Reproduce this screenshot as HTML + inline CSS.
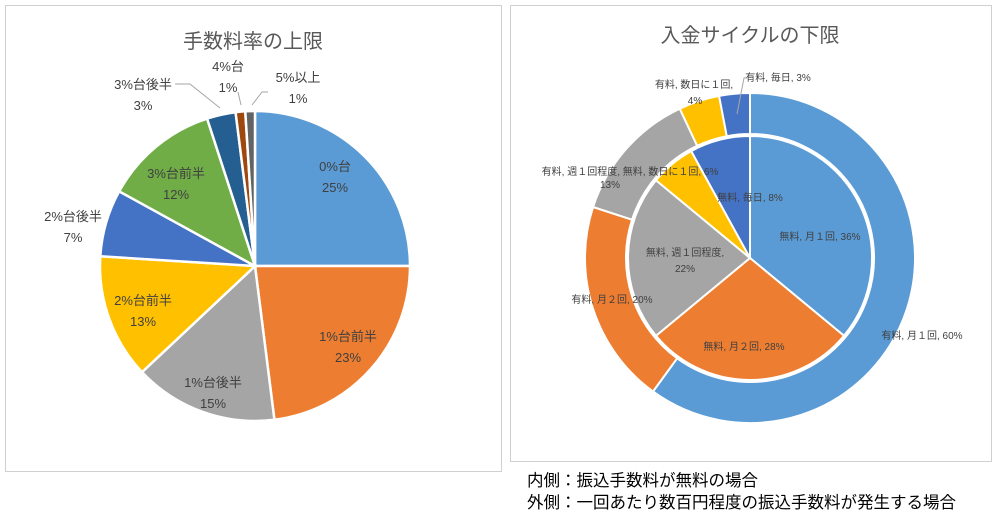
<!DOCTYPE html>
<html><head><meta charset="utf-8"><style>
body{margin:0;width:1000px;height:519px;background:#fff;overflow:hidden;font-family:"Liberation Sans","Noto Sans CJK JP",sans-serif;}
.panel{position:absolute;border:1px solid #d0d0d0;background:#fff;}
.note{position:absolute;left:527px;font-size:16.5px;color:#000;white-space:nowrap;}
svg text{font-family:"Liberation Sans","Noto Sans CJK JP",sans-serif;}
</style></head><body>
<div class="panel" style="left:5px;top:5px;width:495px;height:465px"></div>
<div class="panel" style="left:510px;top:5px;width:480px;height:455px"></div>
<svg id="s" width="1000" height="519" style="position:absolute;left:0;top:0">
<text x="253" y="48" font-size="20" fill="#595959" text-anchor="middle">手数料率の上限</text>
<text x="750" y="42" font-size="20" fill="#595959" text-anchor="middle">入金サイクルの下限</text>
<g id="lp"></g><g id="ro"></g><g id="ri"></g><g id="lbl"></g>
</svg>
<div class="note" style="top:467px">内側：振込手数料が無料の場合</div>
<div class="note" style="top:489px">外側：一回あたり数百円程度の振込手数料が発生する場合</div>
<script>
const leftCategories=["0%台","1%台前半","1%台後半","2%台前半","2%台後半","3%台前半","3%台後半","4%台","5%以上"];
const leftValues=[25,23,15,13,7,12,3,1,1];
const outerCategories=["有料, 月１回","有料, 月２回","有料, 週１回程度","有料, 数日に１回","有料, 毎日"];
const outerValues=[60,20,13,4,3];
const innerCategories=["無料, 月１回","無料, 月２回","無料, 週１回程度","無料, 数日に１回","無料, 毎日"];
const innerValues=[36,28,22,6,8];
const leftColors=["#5b9bd5","#ed7d31","#a5a5a5","#ffc000","#4472c4","#70ad47","#255e91","#9e480e","#636363"];
const ringColors=["#5b9bd5","#ed7d31","#a5a5a5","#ffc000","#4472c4"];
const NS="http://www.w3.org/2000/svg";
function pt(cx,cy,r,a){return [cx+r*Math.sin(a),cy-r*Math.cos(a)];}
function arcPath(cx,cy,r0,r1,a0,a1){
 const lg=(a1-a0)>Math.PI?1:0;
 const p1=pt(cx,cy,r1,a0),p2=pt(cx,cy,r1,a1);
 if(r0<=0)return `M${cx},${cy}L${p1}A${r1},${r1} 0 ${lg} 1 ${p2}Z`;
 const p3=pt(cx,cy,r0,a1),p4=pt(cx,cy,r0,a0);
 return `M${p1}A${r1},${r1} 0 ${lg} 1 ${p2}L${p3}A${r0},${r0} 0 ${lg} 0 ${p4}Z`;
}
function drawPie(g,vals,cols,cx,cy,r0,r1,name,sw){
 const tot=vals.reduce((a,b)=>a+b,0);let a=0;
 vals.forEach((v,i)=>{const a1=a+v/tot*2*Math.PI;
  const p=document.createElementNS(NS,'path');
  p.setAttribute('d',arcPath(cx,cy,r0,r1,a,a1));
  p.setAttribute('fill',cols[i]);p.setAttribute('stroke','#fff');p.setAttribute('stroke-width',sw);
  
  
  document.getElementById(g).appendChild(p);a=a1;});
}
drawPie('lp',leftValues,leftColors,255,266,0,155,'left-pie',2.5);
drawPie('ro',outerValues,ringColors,750,258,124,165,'outer-ring',2);
drawPie('ri',innerValues,ringColors,750,258,0,122,'inner-pie',2);
function txt(x,y,s,size,name){const t=document.createElementNS(NS,'text');
 t.setAttribute('x',x);t.setAttribute('y',y);t.setAttribute('font-size',size);t.setAttribute('fill','#404040');t.setAttribute('text-anchor','middle');
 t.textContent=s;
 
 
 document.getElementById('lbl').appendChild(t);}
const lpos=[[335,171],[348,341],[213,387],[143,305],[73,221],[176,178],[143,89],[228,71],[298,82]];
leftCategories.forEach((c,i)=>{txt(lpos[i][0],lpos[i][1],c,13,'left-label-'+(i+1));txt(lpos[i][0],lpos[i][1]+21,leftValues[i]+'%',13,'left-value-'+(i+1));});
txt(922,339,outerCategories[0]+', '+outerValues[0]+'%',10,'outer-label-1');
txt(612,303,outerCategories[1]+', '+outerValues[1]+'%',10,'outer-label-2');
txt(630,175,outerCategories[2]+', '+innerCategories[3]+', '+innerValues[3]+'%',10,'outer-label-3');
txt(610,188,outerValues[2]+'%',10,'outer-value-3');
txt(694,88,outerCategories[3]+',',10,'outer-label-4');
txt(695,104,outerValues[3]+'%',10,'outer-value-4');
txt(778,81,outerCategories[4]+', '+outerValues[4]+'%',10,'outer-label-5');
txt(820,240,innerCategories[0]+', '+innerValues[0]+'%',10,'inner-label-1');
txt(744,350,innerCategories[1]+', '+innerValues[1]+'%',10,'inner-label-2');
txt(685,256,innerCategories[2]+',',10,'inner-label-3');
txt(685,272,innerValues[2]+'%',10,'inner-value-3');
txt(750,201,innerCategories[4]+', '+innerValues[4]+'%',10,'inner-label-5');
</script>
<svg width="1000" height="519" style="position:absolute;left:0;top:0;pointer-events:none">
<polyline points="175,84 190,84 220,108" fill="none" stroke="#a6a6a6"/>
<line x1="238" y1="92" x2="241" y2="105" stroke="#a6a6a6"/>
<polyline points="268,92 262,92 252,105" fill="none" stroke="#a6a6a6"/>
<polyline points="747,78 744,78 737,114" fill="none" stroke="#a6a6a6"/>
</svg>
</body></html>
